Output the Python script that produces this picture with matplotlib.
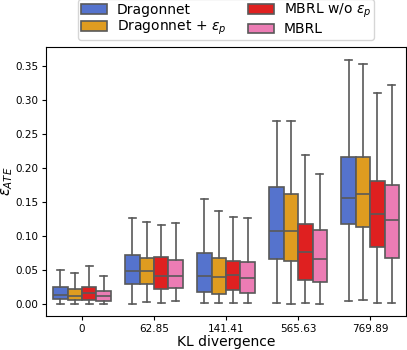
import matplotlib
matplotlib.use('Agg')
import matplotlib.pyplot as plt
import numpy as np

# data (epsilon_ATE box stats per KL divergence group)
KL_LABELS = ["0", "62.85", "141.41", "565.63", "769.89"]
METHODS = ["Dragonnet", r"Dragonnet + $\epsilon_p$", r"MBRL w/o $\epsilon_p$", "MBRL"]
COLORS = ["#5573CD", "#DF9C20", "#DF2020", "#EC7CB4"]

# each row: [whislo, q1, med, q3, whishi] for one KL group
DRAGONNET = [
    [0.000, 0.007, 0.014, 0.0245, 0.050],
    [0.000, 0.029, 0.048, 0.0716, 0.126],
    [0.001, 0.018, 0.042, 0.0755, 0.155],
    [0.001, 0.0657, 0.108, 0.1716, 0.269],
    [0.004, 0.1176, 0.156, 0.2167, 0.359],
]
DRAGONNET_EP = [
    [0.000, 0.006, 0.0118, 0.022, 0.0456],
    [0.0025, 0.030, 0.048, 0.0676, 0.121],
    [0.001, 0.015, 0.0397, 0.068, 0.137],
    [0.000, 0.0637, 0.108, 0.162, 0.269],
    [0.006, 0.113, 0.162, 0.2157, 0.353],
]
MBRL_NO_EP = [
    [0.000, 0.006, 0.016, 0.0255, 0.0559],
    [0.001, 0.0216, 0.0417, 0.0696, 0.116],
    [0.001, 0.0206, 0.043, 0.064, 0.1275],
    [0.001, 0.0353, 0.076, 0.1176, 0.219],
    [0.001, 0.0843, 0.133, 0.181, 0.310],
]
MBRL = [
    [0.000, 0.005, 0.0123, 0.0196, 0.0417],
    [0.0044, 0.023, 0.0407, 0.0642, 0.1196],
    [0.001, 0.016, 0.0387, 0.0613, 0.126],
    [0.000, 0.0319, 0.0657, 0.109, 0.1917],
    [0.001, 0.0672, 0.124, 0.1745, 0.3225],
]
ALL_STATS = [DRAGONNET, DRAGONNET_EP, MBRL_NO_EP, MBRL]

EDGE = "#595959"
BOX_W = 0.2

fig = plt.figure(figsize=(4.07, 3.5), dpi=100)
ax = fig.add_axes([0.113, 0.097, 0.885, 0.769])

offsets = np.array([-0.3, -0.1, 0.1, 0.3])
handles = []
for m, (stats, color) in enumerate(zip(ALL_STATS, COLORS)):
    bxp_stats = []
    for row in stats:
        lo, q1, med, q3, hi = row
        bxp_stats.append(dict(whislo=lo, q1=q1, med=med, q3=q3, whishi=hi, fliers=[]))
    pos = np.arange(len(KL_LABELS)) + offsets[m]
    res = ax.bxp(bxp_stats, positions=pos, widths=BOX_W, patch_artist=True,
                 showfliers=False, manage_ticks=False,
                 boxprops=dict(facecolor=color, edgecolor=EDGE, linewidth=1.2),
                 medianprops=dict(color=EDGE, linewidth=1.2),
                 whiskerprops=dict(color=EDGE, linewidth=1.2),
                 capprops=dict(color=EDGE, linewidth=1.2),
                 capwidths=BOX_W * 0.5)
    handles.append(res['boxes'][0])

ax.set_xlim(-0.5, len(KL_LABELS) - 0.5)
ax.set_ylim(-0.0176, 0.378)
ax.set_xticks(np.arange(len(KL_LABELS)))
ax.set_xticklabels(KL_LABELS)
ax.set_yticks(np.arange(0, 0.36, 0.05))
ax.set_yticklabels([f"{v:.2f}" for v in np.arange(0, 0.36, 0.05)])
ax.tick_params(labelsize=7.5, length=3, pad=2.5)
ax.set_xlabel("KL divergence", fontsize=10, labelpad=1)
ax.set_ylabel(r"$\epsilon_{ATE}$", fontsize=10.5, labelpad=0)

ax.legend(handles, METHODS, loc='lower center', bbox_to_anchor=(0.5, 1.0),
          ncol=2, fontsize=10, handlelength=1.85, columnspacing=1.6,
          labelspacing=0.15, borderpad=0.2, handletextpad=0.7, frameon=True)

fig.savefig("out.png", dpi=100, facecolor='white')
